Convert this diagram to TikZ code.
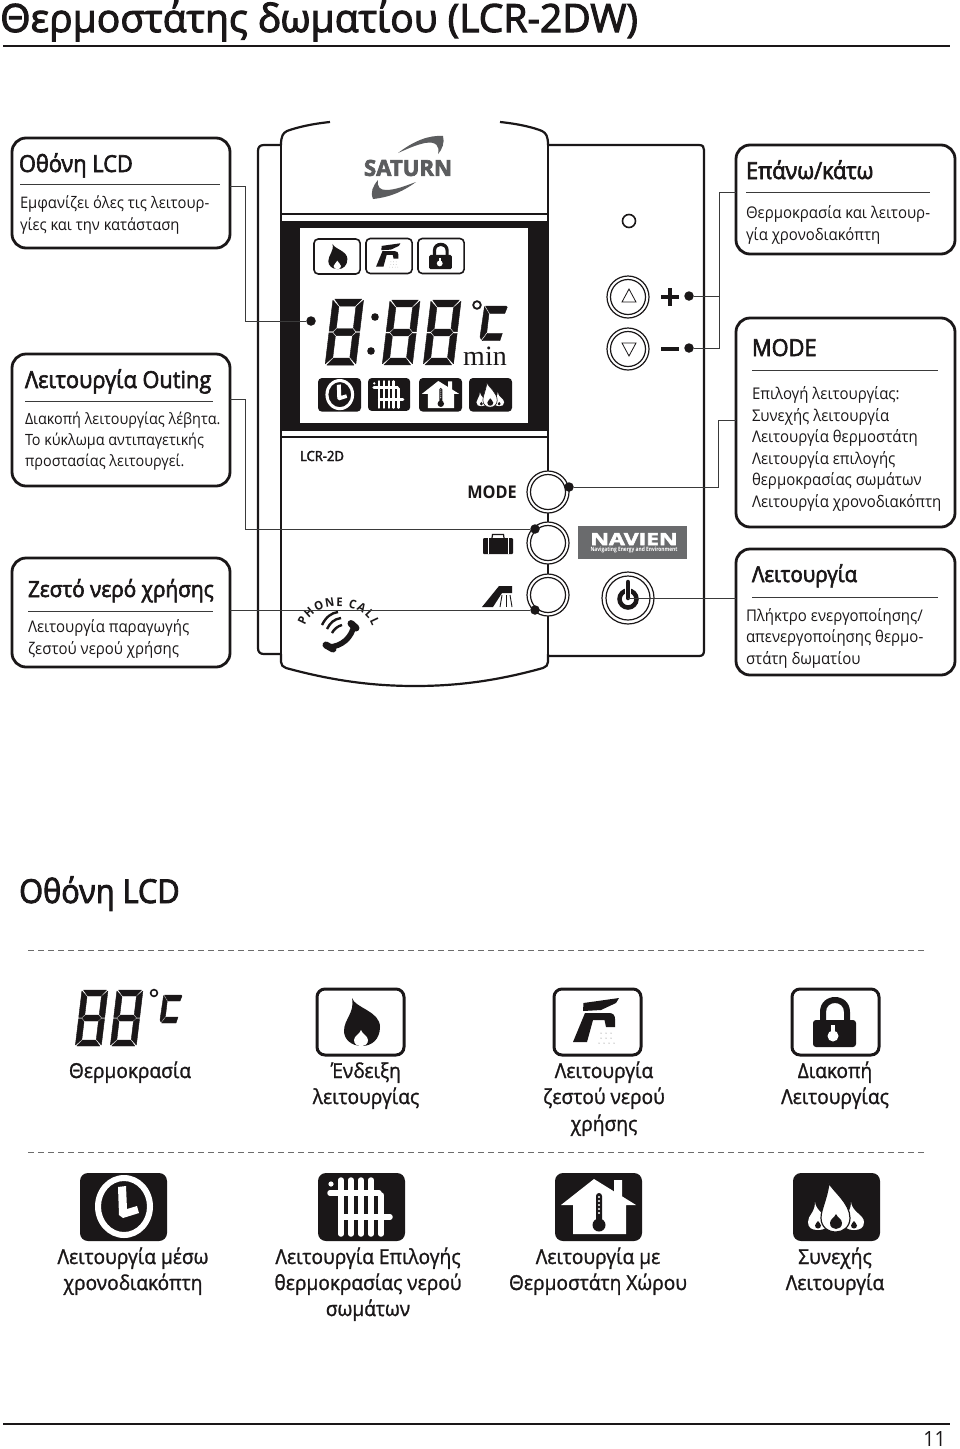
\documentclass[tikz,border=0pt]{standalone}
\usepackage{fontspec}
\usetikzlibrary{decorations.text}
\setmainfont[FakeStretch=0.93]{Open Sans}
\newfontfamily\semifont[FakeStretch=0.93,FakeBold=2.6]{Open Sans}
\newfontfamily\medfont[FakeStretch=0.93,FakeBold=1.2]{Open Sans}
\newfontfamily\titlefont[FakeBold=2.6]{Open Sans}
\newfontfamily\heavyfont[FakeBold=3]{Open Sans}
\newfontfamily\minfont{Liberation Serif}
\newcommand\fsz[1]{\fontsize{#1}{#1}\selectfont}
\definecolor{ink}{HTML}{1A1718}
\definecolor{rulec}{HTML}{3A3A3A}
\definecolor{logoc}{HTML}{5C5D5F}
\definecolor{navc}{HTML}{6A6B6D}
\tikzset{
  callout/.style={draw=ink,line width=2.8pt,rounded corners=14pt,fill=white,anchor=north west,inner sep=0pt,outer sep=0pt},
  txt/.style={anchor=base west,inner sep=0pt,outer sep=0pt,text=ink,font=\fsz{16.1}},
  head/.style={anchor=base west,inner sep=0pt,outer sep=0pt,text=ink,font=\semifont\fsz{23.4}},
  lab/.style={anchor=base,inner sep=0pt,outer sep=0pt,text=ink,font=\medfont\fsz{20.6}},
  hair/.style={draw=rulec,line width=.9pt},
  conn/.style={draw=rulec,line width=1pt},
  dotn/.style={circle,fill=ink,inner sep=0pt,outer sep=0pt,minimum size=9.5pt},
  plate/.style={draw=ink,line width=2.2pt},
  thin/.style={draw=ink,line width=1.2pt},
  btn/.style={draw=ink,line width=1.2pt,fill=white},
  dashrule/.style={draw=gray!85!black,line width=1pt,dash pattern=on 6pt off 4pt},
  seg/.style={fill=ink,draw=ink,line width=.4pt,line join=round},
}
\newcommand\segdigit[3]{%
\begin{scope}[shift={(#1,#2)},scale=#3,xslant=.12]
 \path[seg] (1.5,0)--(24.5,0)--(19.5,6)--(6.5,6)--cycle;
 \path[seg] (0,1)--(5.8,6.7)--(5.8,24.4)--(3,27.3)--(0,27.3)--cycle;
 \path[seg] (26,1)--(20.2,6.7)--(20.2,24.4)--(23,27.3)--(26,27.3)--cycle;
 \path[seg] (3.8,28)--(6.6,25)--(19.4,25)--(22.2,28)--(19.4,31)--(6.6,31)--cycle;
 \path[seg] (0,28.7)--(3,28.7)--(5.8,31.6)--(5.8,49.3)--(0,55)--cycle;
 \path[seg] (26,28.7)--(23,28.7)--(20.2,31.6)--(20.2,49.3)--(26,55)--cycle;
 \path[seg] (1.5,56)--(6.5,50)--(19.5,50)--(24.5,56)--cycle;
\end{scope}}
\newcommand\segC[3]{%
\begin{scope}[shift={(#1,#2)},scale=#3]
 \path[seg] (4.5,0)--(21,0)--(22,1)--(20,6)--(8,6)--cycle;
 \path[seg] (3.6,.5)--(7.2,6.5)--(5.5,21)--(1,27)--(0,25)--cycle;
 \path[seg] (1.6,28)--(6,22)--(18,22)--(16,28)--cycle;
\end{scope}}
\newcommand\icFrame[1]{%
 \pgfmathsetmacro\rcv{8*#1}\pgfmathsetmacro\lwv{3*#1}%
 \draw[ink,line width=\lwv pt,rounded corners=\rcv pt] (0,0) rectangle (87,66);}
\newcommand\icSolid[1]{%
 \pgfmathsetmacro\rcv{8*#1}%
 \fill[ink,rounded corners=\rcv pt] (0,0) rectangle (87,68);}
\newcommand\icFlame[3]{%
\begin{scope}[shift={(#1,#2)},scale=#3]
 \icFrame{#3}
 \fill[ink] (35,9) .. controls (38,19) and (63,22) .. (63,38) .. controls (63,50) and (55,57) .. (45,57) .. controls (34,57) and (27,50) .. (27,42) .. controls (27,30) and (38,24) .. (35,9) -- cycle;
 \fill[white] (44,41) .. controls (45,45) and (51,47) .. (51,51) .. controls (51,55) and (48,57) .. (44,57) .. controls (40,57) and (37,55) .. (37,51) .. controls (37,47) and (43,45) .. (44,41) -- cycle;
\end{scope}}
\newcommand\icTap[3]{%
\begin{scope}[shift={(#1,#2)},scale=#3]
 \icFrame{#3}
 \fill[ink] (29.5,14)--(65,9)--(62,14)--(47,21)--(29,22)--cycle;
 \fill[ink] (31,24)--(55,24) .. controls (59,24) and (61,26) .. (61,30) -- (61,38)--(52,38)--(50.5,31)--(39,31)--(33,53)--(19,53)--cycle;
 \foreach \px/\py in {47/44,52/44,57/44,47/49,52/49,57/49,45/54,50/54,55/54,60/54}{\fill[black!60] (\px,\py) circle (.5);}
\end{scope}}
\newcommand\icLock[3]{%
\begin{scope}[shift={(#1,#2)},scale=#3]
 \icFrame{#3}
 \fill[ink] (28,32) -- (28,23) .. controls (28,3) and (58,3) .. (58,23) -- (58,32) -- (52,32) -- (52,23) .. controls (52,11) and (34,11) .. (34,23) -- (34,32) -- cycle;
 \pgfmathsetmacro\rcv{3*#3}
 \fill[ink,rounded corners=\rcv pt] (21,31) rectangle (64,58);
 \fill[white] (41,47) circle (5.5);
 \fill[white] (39.2,36) rectangle (42.8,48);
\end{scope}}
\newcommand\icClock[3]{%
\begin{scope}[shift={(#1,#2)},scale=#3]
 \icSolid{#3}
 \fill[white,even odd rule] (44,33.5) ellipse [x radius=29,y radius=31.5] (44,33.5) ellipse [x radius=23,y radius=25.5];
 \fill[white] (38,14)--(46,13)--(47,36)--(57,33)--(59,40)--(43,45)--(39,42)--cycle;
\end{scope}}
\newcommand\icRad[3]{%
\begin{scope}[shift={(#1,#2)},scale=#3]
 \icSolid{#3}
 \pgfmathsetmacro\lwv{5.5*#3}
 \begin{scope}[white,line width=\lwv pt,line cap=round]
  \draw (23,7)--(23,61); \draw (33,7)--(33,61); \draw (43,7)--(43,61); \draw (53,7)--(53,61); \draw (63,22)--(63,61);
  \draw (12,20)--(61,20); \draw (23,44)--(72,44);
 \end{scope}
 \fill[white] (13,11) circle (2.6);
\end{scope}}
\newcommand\icHouse[3]{%
\begin{scope}[shift={(#1,#2)},scale=#3]
 \icSolid{#3}
 \fill[white] (39,6)--(59,18.4)--(59,7)--(67,7)--(67,23.3)--(81,32)--(71,32)--(71,61)--(18,61)--(18,32)--(6,32)--cycle;
 \fill[ink] (44,52) circle (6.5);
 \pgfmathsetmacro\rcv{3*#3}
 \fill[ink,rounded corners=\rcv pt] (41,20) rectangle (47,50);
 \foreach \py in {24,28,32,36,40}{\fill[white] (44,\py) circle (1.2);}
\end{scope}}
\newcommand\oneFlame[2]{%
\begin{scope}[shift={(#1,#2)}]
 \fill[white] (-3,-28) .. controls (-2,-18) and (10,-15) .. (10,-8) .. controls (10,-2) and (6,0) .. (0,0) .. controls (-6,0) and (-10,-2) .. (-10,-8) .. controls (-10,-15) and (-3,-17) .. (-3,-28) -- cycle;
 \fill[ink] (0,-9) .. controls (.5,-7.5) and (3,-6.5) .. (3,-4.5) .. controls (3,-2.5) and (1.5,-1.5) .. (0,-1.5) .. controls (-1.5,-1.5) and (-3,-2.5) .. (-3,-4.5) .. controls (-3,-6.5) and (-.5,-7.5) .. (0,-9) -- cycle;
\end{scope}}
\newcommand\icFire[3]{%
\begin{scope}[shift={(#1,#2)},scale=#3]
 \pgfmathsetmacro\lwv{1.2*#3}
 \icSolid{#3}
 \oneFlame{25}{57}
 \oneFlame{61}{57}
 \filldraw[fill=white,draw=ink,line width=\lwv pt] (36,10) .. controls (40,18) and (57,30) .. (57,45) .. controls (57,54) and (50,59) .. (43,59) .. controls (35,59) and (28,54) .. (28,45) .. controls (28,36) and (34,26) .. (36,10) -- cycle;
 \fill[ink] (43,41) .. controls (44,44) and (49,46) .. (49,50) .. controls (49,54) and (46,56) .. (43,56) .. controls (40,56) and (37,54) .. (37,50) .. controls (37,46) and (42,44) .. (43,41) -- cycle;
\end{scope}}
\begin{document}
\begin{tikzpicture}[x=1pt,y=-1pt]
\useasboundingbox (0,0) rectangle (960,1449);
\fill[white] (0,0) rectangle (960,1449);

% title
\node[anchor=base west,inner sep=0pt,text=ink,font=\titlefont\fsz{39}] (title) at (0,32) {Θερμοστάτης δωματίου (LCR-2DW)};
\draw[ink,line width=2pt] (3,46)--(950,46);

% device
\draw[plate] (281,145)--(264,145) .. controls (260,145) and (258,147) .. (258,151) -- (258,648) .. controls (258,652) and (260,654) .. (264,654) -- (281,654);
\draw[plate] (548,145)--(699,145) .. controls (703,145) and (704,147) .. (704,150) -- (704,650) .. controls (704,654) and (703,656) .. (699,656) -- (548,656);
\draw[plate] (330,122) .. controls (310,124) and (295,128) .. (287,131) .. controls (283,133) and (281,136) .. (281,145);
\draw[plate] (500,122) .. controls (520,124) and (535,128) .. (542,131) .. controls (546,133) and (548,136) .. (548,145);
\draw[thin] (281,145)--(281,655);
\draw[thin] (548,145)--(548,655);
\draw[plate] (281,654)--(281,662) .. controls (281,665) and (283,667) .. (286,668) .. controls (330,680) and (370,686) .. (415,686) .. controls (460,686) and (500,680) .. (543,668) .. controls (546,667) and (548,665) .. (548,662) -- (548,654);
\draw[thin] (281,214)--(548,214);
\draw[thin] (281,437)--(548,437);
\fill[ink] (281,221) rectangle (548,431);
\fill[white] (300,228) rectangle (528,423);

% LCD content
\icFlame{314}{239}{.53}
\icTap{366}{238.5}{.53}
\icLock{418}{238.5}{.53}
\segdigit{333}{299}{1.18}
\fill[ink] (375,317) circle (3.8);
\fill[ink] (371,351) circle (3.8);
\segdigit{390}{300}{1.16}
\segdigit{431}{300}{1.16}
\draw[ink,line width=1.8pt] (477,305) circle (3.8);
\segC{480}{306}{1.24}
\node[anchor=base,inner sep=0pt,text=ink,font=\minfont\fsz{28}] (minlab) at (485,365) {min};
\icClock{318}{378}{.495}
\icRad{368}{378}{.485}
\icHouse{419}{378}{.495}
\icFire{469}{378}{.495}

% logo
\fill[logoc] (398,153) .. controls (415,140) and (430,135) .. (443,136) .. controls (445,142) and (442,150) .. (438,154) .. controls (440,146) and (436,141) .. (425,143) .. controls (415,145) and (405,150) .. (398,153) -- cycle;
\fill[logoc] (416,182) .. controls (405,190) and (392,197) .. (373,199) .. controls (370,192) and (373,186) .. (378,180) .. controls (377,187) and (380,190) .. (386,190) .. controls (395,190) and (405,186) .. (416,182) -- cycle;
\node[inner sep=0pt,text=logoc] (saturn) at (408,168) {\resizebox{88pt}{16pt}{\heavyfont\bfseries SATURN}};

% buttons, front
\node[inner sep=0pt,text=ink,font=\semifont\fsz{14}] (model) at (322,456) {LCR-2D};
\node[inner sep=0pt,text=ink,font=\bfseries\fsz{17.5}] (modelab) at (492,492) {MODE};

\foreach \nm/\py in {a/492,b/543,c/595}{
  \node[circle,btn,minimum size=42pt,inner sep=0pt,outer sep=0pt] (btn\nm) at (548,\py) {};
  \draw[thin] (548,\py) circle (17.5);
}
\foreach \nm/\py in {u/297,d/349}{
  \node[circle,btn,minimum size=42pt,inner sep=0pt,outer sep=0pt] (btn\nm) at (628,\py) {};
  \draw[thin] (628,\py) circle (17.5);
}
\draw[ink,line width=.8pt] (622,302)--(636,302)--(629,289)--cycle;
\draw[ink,line width=.8pt] (622,343)--(636,343)--(629,356)--cycle;
\draw[ink,line width=1.6pt] (629,221) circle (6.5);
\fill[ink] (661,295) rectangle (679,299);
\fill[ink] (668,288) rectangle (672,306);
\fill[ink] (661,347) rectangle (679,351);

% suitcase and shower
\fill[ink,rounded corners=1pt] (483,538) rectangle (513,554);
\draw[ink,line width=1.2pt] (492,538)--(492.5,534.5)--(503.5,534.5)--(504,538);
\draw[white,line width=.8pt] (488,538)--(488,554);
\draw[white,line width=.8pt] (508,538)--(508,554);
\fill[ink] (482,607)--(499,586)--(512,586)--(512,593)--(502,593)--(493,607)--cycle;
\draw[ink,line width=.9pt] (502,595)--(500,607);
\draw[ink,line width=.9pt] (506,595)--(506,607);
\draw[ink,line width=.9pt] (510,595)--(512,607);

% navien
\node[fill=navc,minimum width=109pt,minimum height=33pt,inner sep=0pt,anchor=north west] (navbox) at (578,526) {};
\node[inner sep=0pt,text=white] (navname) at (634,539) {\resizebox{87pt}{12pt}{\heavyfont\bfseries NAVIEN}};
\node[inner sep=0pt,text=white] (navsub) at (634,549.5) {\resizebox{87pt}{4.5pt}{\bfseries Navigating Energy and Environment}};

% power
\node[circle,btn,minimum size=52pt,inner sep=0pt,outer sep=0pt] (btnp) at (628,598) {};
\draw[thin] (628,598) circle (22);
\draw[ink,line width=4.5pt] (628,599) circle (8.5);
\draw[white,line width=6pt] (628,584)--(628,596);
\draw[ink,line width=4.5pt,line cap=round] (628,582)--(628,598);

% phone
\path[decorate,decoration={text along path,text align={fit to path},text={|\color{ink}\bfseries\fsz{12}|PHONE CALL}}] (305,626) .. controls (313,600) and (364,600) .. (372,626);
\draw[ink,line width=5.5pt] (328,647) .. controls (342,647) and (352,637) .. (354,625);
\draw[ink,line width=7pt,line cap=round] (326,645)--(333,649);
\draw[ink,line width=7pt,line cap=round] (351,623.5)--(356,628);
\draw[ink,line width=2.4pt] (322,625) .. controls (326,617) and (331,613) .. (338,612);
\draw[ink,line width=2.4pt] (327,629) .. controls (330,623) and (334,619) .. (341,618);
\draw[ink,line width=2.4pt] (332,633) .. controls (334,629) and (338,626) .. (342,625);

% dots
\node[dotn] (dl) at (311,321) {};
\node[dotn] (ds) at (535,529) {};
\node[dotn] (dw) at (535,610) {};
\node[dotn] (dm) at (569,487) {};
\node[dotn] (dp) at (689,296) {};
\node[dotn] (dn) at (689,348) {};

% callouts
\node[callout,minimum width=218pt,minimum height=110pt] (boxa) at (12,138) {};
\node[callout,minimum width=218pt,minimum height=132pt] (boxb) at (12,354) {};
\node[callout,minimum width=218pt,minimum height=109pt] (boxc) at (12,558) {};
\node[callout,minimum width=219pt,minimum height=109pt] (boxd) at (736,145) {};
\node[callout,minimum width=219pt,minimum height=209pt] (boxe) at (736,318) {};
\node[callout,minimum width=219pt,minimum height=126pt] (boxf) at (736,549) {};

% connectors
\coordinate (pa) at (230,186);
\coordinate (pb) at (230,399);
\coordinate (pc) at (230,610);
\coordinate (pd) at (736,192);
\coordinate (pe) at (736,420);
\coordinate (pf) at (736,598);
\coordinate (jd) at (719,296);
\draw[conn] (pa) -- (245,186) |- (dl);
\draw[conn] (pb) -- (245,399) |- (ds);
\draw[conn] (pc) -- (dw);
\draw[conn] (dp) -- (jd);
\draw[conn] (dn) -| (jd);
\draw[conn] (jd) |- (pd);
\draw[conn] (dm) -| (718,420) -- (pe);
\draw[conn] (btnp.center) -- (pf);

% callout text
\node[head] (ta) at (19,172) {Οθόνη LCD};
\draw[hair] (20,184)--(220,184);
\node[txt,font=\fsz{15.9}] (ta1) at (20,208) {Εμφανίζει όλες τις λειτουρ-};
\node[txt,font=\fsz{15.9}] (ta2) at (20,230) {γίες και την κατάσταση};

\node[head] (tb) at (25,388) {Λειτουργία Outing};
\draw[hair] (25,401)--(213,401);
\node[txt,font=\fsz{15.5}] (tb1) at (25,424) {Διακοπή λειτουργίας λέβητα.};
\node[txt,font=\fsz{15.5}] (tb2) at (25,445) {Το κύκλωμα αντιπαγετικής};
\node[txt,font=\fsz{15.5}] (tb3) at (25,466) {προστασίας λειτουργεί.};

\node[head,font=\semifont\fsz{22.3}] (tc) at (28,597) {Ζεστό νερό χρήσης};
\draw[hair] (28,611)--(213,611);
\node[txt] (tc1) at (28,632) {Λειτουργία παραγωγής};
\node[txt] (tc2) at (28,654) {ζεστού νερού χρήσης};

\node[head] (td) at (746,179) {Επάνω/κάτω};
\draw[hair] (746,192)--(930,192);
\node[txt] (td1) at (746,218) {Θερμοκρασία και λειτουρ-};
\node[txt] (td2) at (746,240) {γία χρονοδιακόπτη};

\node[head] (te) at (752,356) {MODE};
\draw[hair] (752,370)--(938,370);
\node[txt] (te1) at (752,399) {Επιλογή λειτουργίας:};
\node[txt] (te2) at (752,421) {Συνεχής λειτουργία};
\node[txt] (te3) at (752,442) {Λειτουργία θερμοστάτη};
\node[txt] (te4) at (752,464) {Λειτουργία επιλογής};
\node[txt] (te5) at (752,485) {θερμοκρασίας σωμάτων};
\node[txt] (te6) at (752,507) {Λειτουργία χρονοδιακόπτη};

\node[head,font=\semifont\fsz{22}] (tf) at (752,582) {Λειτουργία};
\draw[hair] (752,597)--(938,597);
\node[txt] (tf1) at (746,621) {Πλήκτρο ενεργοποίησης/};
\node[txt] (tf2) at (746,642) {απενεργοποίησης θερμο-};
\node[txt] (tf3) at (746,664) {στάτη δωματίου};

% lower part
\node[anchor=base west,inner sep=0pt,text=ink,font=\semifont\fsz{33}] (lcdhead) at (19,903) {Οθόνη LCD};
\draw[dashrule] (28,950)--(926,950);
\draw[dashrule] (28,1152)--(926,1152);

\segdigit{82}{990}{1}
\segdigit{117}{990}{1}
\draw[ink,line width=1.6pt] (154,993) circle (3.4);
\segC{160}{995}{1}
\icFlame{317}{989}{1}
\icTap{554}{989}{1}
\icLock{792}{989}{1}
\icClock{80}{1173}{1}
\icRad{318}{1173}{1}
\icHouse{555}{1173}{1}
\icFire{793}{1173}{1}

\node[lab] (l1) at (130,1078) {Θερμοκρασία};
\node[lab] (l2) at (366,1078) {Ένδειξη};
\node[lab] (l3) at (366,1104) {λειτουργίας};
\node[lab] (l4) at (604,1078) {Λειτουργία};
\node[lab] (l5) at (604,1104) {ζεστού νερού};
\node[lab] (l6) at (604,1131) {χρήσης};
\node[lab] (l7) at (835,1078) {Διακοπή};
\node[lab] (l8) at (835,1104) {Λειτουργίας};
\node[lab] (l9) at (133,1264) {Λειτουργία μέσω};
\node[lab] (l10) at (133,1290) {χρονοδιακόπτη};
\node[lab] (l11) at (368,1264) {Λειτουργία Επιλογής};
\node[lab] (l12) at (368,1290) {θερμοκρασίας νερού};
\node[lab] (l13) at (368,1316) {σωμάτων};
\node[lab] (l14) at (598,1264) {Λειτουργία με};
\node[lab] (l15) at (598,1290) {Θερμοστάτη Χώρου};
\node[lab] (l16) at (835,1264) {Συνεχής};
\node[lab] (l17) at (835,1290) {Λειτουργία};

\draw[ink,line width=2pt] (3,1424)--(950,1424);
\node[anchor=base east,inner sep=0pt,text=ink,font=\fsz{21}] (pageno) at (946,1446) {11};
\end{tikzpicture}
\end{document}
